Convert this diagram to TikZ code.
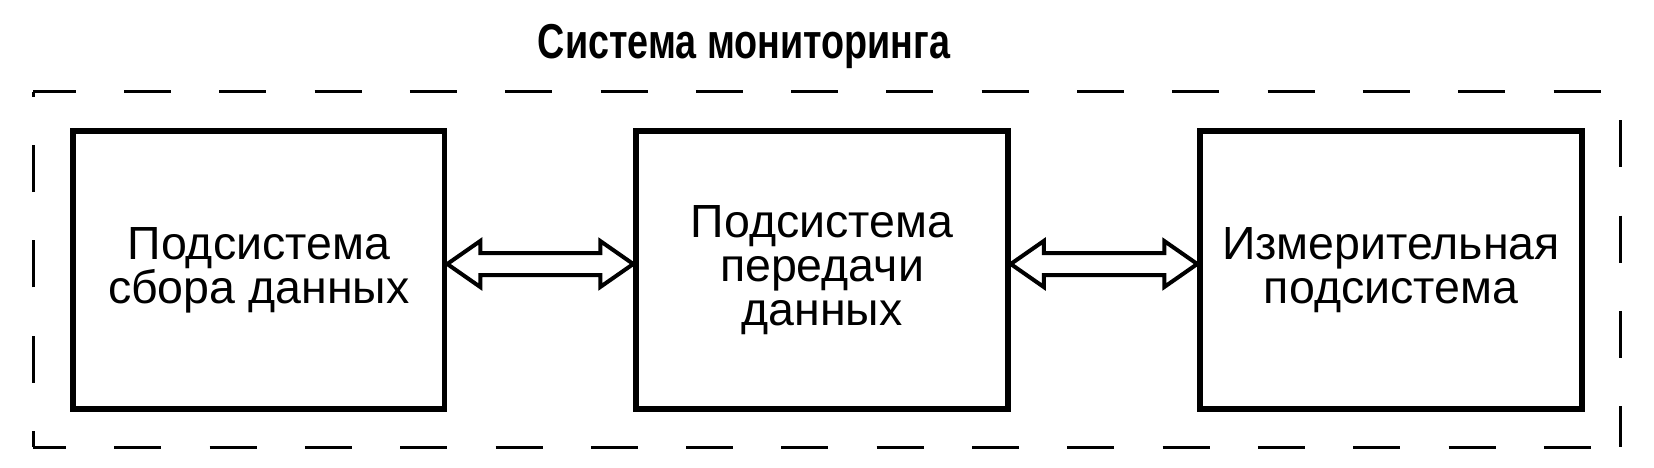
\documentclass[tikz,border=0pt]{standalone}
\usepackage{graphicx}
\usepackage{fontspec}
\setmainfont{Liberation Sans}
\usetikzlibrary{calc}
\begin{document}
\begin{tikzpicture}[x=1pt,y=-1pt,
  block/.style={draw, line width=5.5pt, minimum width=#1, minimum height=278pt, inner sep=0pt, align=center, font=\fontsize{46.5}{44}\selectfont},
  frame/.style={line width=3pt, dash pattern=on 47pt off 48.3pt},
  link/.style={line width=4pt, line join=miter}]
\useasboundingbox (0,0) rectangle (1654,468);
\node[font=\bfseries\fontsize{49}{49}\selectfont, anchor=base, inner sep=0pt] (title) at (744,59) {\scalebox{0.77}[1]{Система мониторинга}};
\node[block=371.5pt] (a) at (258.75,270) {Подсистема\\сбора данных};
\node[block=372pt] (b) at (822,270) {Подсистема\\передачи\\данных};
\node[block=382pt] (c) at (1391,270) {Измерительная\\подсистема};
\coordinate (tl) at (33,92);
\coordinate (tr) at (1620,92);
\coordinate (bl) at (33,447);
\coordinate (br) at (1620,447);
\draw[frame, dash phase=4.3pt] (tl) -- (tr);
\draw[frame, dash phase=67pt] (tr) -- (br);
\draw[frame, dash phase=14pt] (bl) -- (br);
\draw[frame, dash phase=31pt] (bl) -- (tl);
\draw[link] ($(a.east)+(0,-6)$) -- ++(33,-23) -- ++(0,12) -- ($(b.west)+(-33,-17)$) -- ++(0,-12) -- ($(b.west)+(0,-6)$) -- ++(-33,23) -- ++(0,-12) -- ($(a.east)+(33,5)$) -- ++(0,12) -- cycle;
\draw[link] ($(b.east)+(0,-6)$) -- ++(33,-23) -- ++(0,12) -- ($(c.west)+(-33,-17)$) -- ++(0,-12) -- ($(c.west)+(0,-6)$) -- ++(-33,23) -- ++(0,-12) -- ($(b.east)+(33,5)$) -- ++(0,12) -- cycle;
\end{tikzpicture}
\end{document}
